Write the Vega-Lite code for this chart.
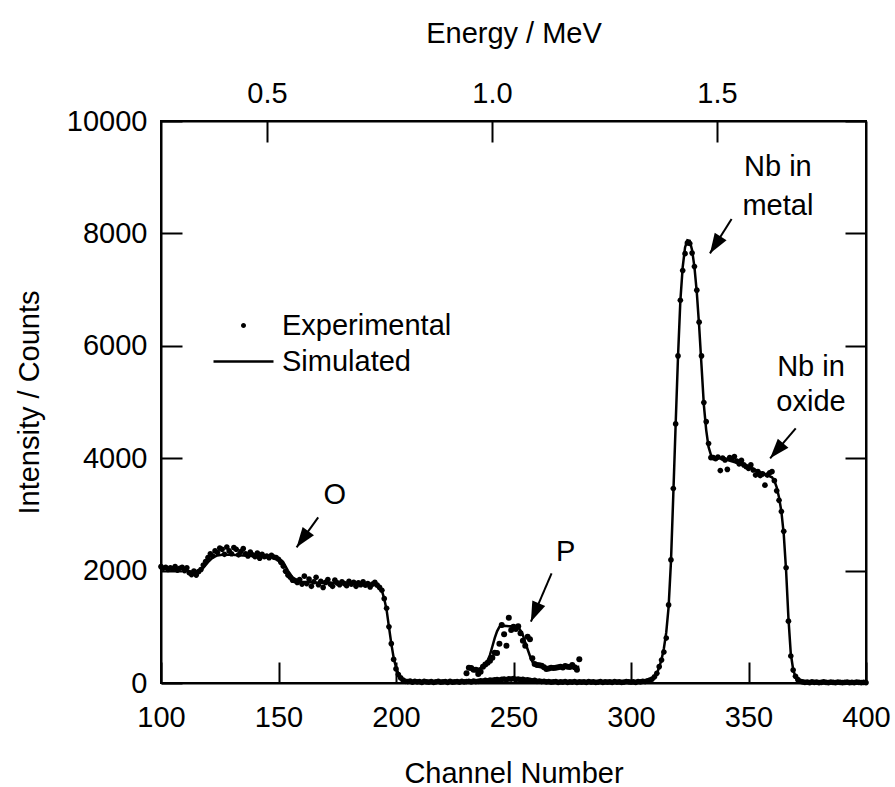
{
  "$schema": "https://vega.github.io/schema/vega-lite/v6.json",
  "width": 705,
  "height": 562,
  "autosize": {"type": "none"},
  "padding": {"left": 161, "top": 121, "right": 29, "bottom": 104},
  "config": {
    "font": "Liberation Sans",
    "view": {"stroke": "black", "strokeWidth": 2},
    "axis": {
      "domainColor": "black", "domainWidth": 2,
      "tickColor": "black", "tickWidth": 2, "tickSize": -21,
      "labelFontSize": 29, "labelColor": "black", "labelFont": "Liberation Sans",
      "titleFontSize": 29, "titleFontWeight": "normal", "titleColor": "black", "titleFont": "Liberation Sans",
      "grid": false, "labelFlush": false, "labelOverlap": false
    },
    "legend": {
      "labelFontSize": 29, "labelColor": "black", "labelFont": "Liberation Sans", "labelLimit": 400,
      "symbolFillColor": "black", "symbolSize": 100, "padding": 0
    }
  },
  "datasets": {
    "exp": [
      {"ch":100,"counts":2070},{"ch":101,"counts":2040},{"ch":102,"counts":2060},{"ch":103,"counts":2020},{"ch":104,"counts":2050},{"ch":105,"counts":2030},{"ch":106,"counts":2070},{"ch":107,"counts":2010},{"ch":108,"counts":2040},{"ch":109,"counts":2060},{"ch":110,"counts":2000},{"ch":111,"counts":2050},
      {"ch":112,"counts":1960},{"ch":113,"counts":1930},{"ch":114,"counts":1990},{"ch":115,"counts":1920},{"ch":116,"counts":1980},
      {"ch":117,"counts":2020},{"ch":118,"counts":2100},{"ch":119,"counts":2160},{"ch":120,"counts":2230},{"ch":121,"counts":2300},{"ch":122,"counts":2260},{"ch":123,"counts":2350},{"ch":124,"counts":2320},
      {"ch":125,"counts":2400},{"ch":126,"counts":2380},{"ch":127,"counts":2290},{"ch":128,"counts":2420},{"ch":129,"counts":2350},{"ch":130,"counts":2300},{"ch":131,"counts":2410},{"ch":132,"counts":2380},{"ch":133,"counts":2280},{"ch":134,"counts":2340},{"ch":135,"counts":2390},
      {"ch":136,"counts":2300},{"ch":137,"counts":2260},{"ch":138,"counts":2330},{"ch":139,"counts":2280},{"ch":140,"counts":2250},{"ch":141,"counts":2310},{"ch":142,"counts":2220},{"ch":143,"counts":2290},{"ch":144,"counts":2250},{"ch":145,"counts":2260},{"ch":146,"counts":2230},{"ch":147,"counts":2270},{"ch":148,"counts":2240},{"ch":149,"counts":2230},{"ch":150,"counts":2200},
      {"ch":151,"counts":2150},{"ch":152,"counts":2080},{"ch":153,"counts":1990},{"ch":154,"counts":1920},{"ch":155,"counts":1880},{"ch":156,"counts":1830},{"ch":157,"counts":1820},{"ch":158,"counts":1790},{"ch":159,"counts":1840},
      {"ch":160,"counts":1760},{"ch":161,"counts":1900},{"ch":162,"counts":1770},{"ch":163,"counts":1850},{"ch":164,"counts":1720},{"ch":165,"counts":1800},{"ch":166,"counts":1880},{"ch":167,"counts":1750},{"ch":168,"counts":1810},{"ch":169,"counts":1700},{"ch":170,"counts":1790},{"ch":171,"counts":1840},{"ch":172,"counts":1760},{"ch":173,"counts":1720},{"ch":174,"counts":1830},{"ch":175,"counts":1780},{"ch":176,"counts":1750},{"ch":177,"counts":1800},{"ch":178,"counts":1770},{"ch":179,"counts":1730},{"ch":180,"counts":1810},{"ch":181,"counts":1760},{"ch":182,"counts":1790},{"ch":183,"counts":1720},{"ch":184,"counts":1780},{"ch":185,"counts":1750},{"ch":186,"counts":1800},{"ch":187,"counts":1740},{"ch":188,"counts":1770},{"ch":189,"counts":1710},{"ch":190,"counts":1760},{"ch":191,"counts":1790},{"ch":192,"counts":1740},{"ch":193,"counts":1700},
      {"ch":194,"counts":1650},{"ch":195,"counts":1500},{"ch":196,"counts":1330},{"ch":197,"counts":1000},{"ch":198,"counts":700},{"ch":199,"counts":420},{"ch":200,"counts":250},{"ch":201,"counts":150},{"ch":202,"counts":90},{"ch":203,"counts":50},{"ch":204,"counts":30},
      {"ch":205,"counts":25},{"ch":206,"counts":35},{"ch":207,"counts":15},{"ch":208,"counts":30},{"ch":209,"counts":20},{"ch":210,"counts":25},{"ch":211,"counts":10},{"ch":212,"counts":30},{"ch":213,"counts":20},{"ch":214,"counts":15},{"ch":215,"counts":25},{"ch":216,"counts":10},{"ch":217,"counts":20},{"ch":218,"counts":30},{"ch":219,"counts":15},{"ch":220,"counts":20},{"ch":221,"counts":25},{"ch":222,"counts":10},{"ch":223,"counts":30},{"ch":224,"counts":15},{"ch":225,"counts":20},{"ch":226,"counts":25},{"ch":227,"counts":15},{"ch":228,"counts":30},{"ch":229,"counts":20},{"ch":230,"counts":25},{"ch":231,"counts":30},{"ch":232,"counts":20},{"ch":233,"counts":35},{"ch":234,"counts":25},{"ch":235,"counts":30},{"ch":236,"counts":40},{"ch":237,"counts":35},{"ch":238,"counts":45},{"ch":239,"counts":40},{"ch":240,"counts":50},{"ch":241,"counts":45},{"ch":242,"counts":55},{"ch":243,"counts":60},{"ch":244,"counts":50},{"ch":245,"counts":65},{"ch":246,"counts":70},{"ch":247,"counts":60},{"ch":248,"counts":75},{"ch":249,"counts":70},{"ch":250,"counts":80},{"ch":251,"counts":65},{"ch":252,"counts":70},{"ch":253,"counts":60},{"ch":254,"counts":65},{"ch":255,"counts":50},{"ch":256,"counts":55},{"ch":257,"counts":45},{"ch":258,"counts":40},{"ch":259,"counts":45},{"ch":260,"counts":30},{"ch":261,"counts":35},{"ch":262,"counts":25},{"ch":263,"counts":30},{"ch":264,"counts":20},{"ch":265,"counts":25},{"ch":266,"counts":15},{"ch":267,"counts":20},{"ch":268,"counts":25},{"ch":269,"counts":10},{"ch":270,"counts":20},{"ch":271,"counts":15},{"ch":272,"counts":25},{"ch":273,"counts":10},{"ch":274,"counts":20},{"ch":275,"counts":15},{"ch":276,"counts":25},{"ch":277,"counts":10},{"ch":278,"counts":20},{"ch":279,"counts":15},{"ch":280,"counts":20},{"ch":281,"counts":10},{"ch":282,"counts":25},{"ch":283,"counts":15},{"ch":284,"counts":20},{"ch":285,"counts":10},{"ch":286,"counts":15},{"ch":287,"counts":25},{"ch":288,"counts":10},{"ch":289,"counts":20},{"ch":290,"counts":15},{"ch":291,"counts":20},{"ch":292,"counts":10},{"ch":293,"counts":25},{"ch":294,"counts":15},{"ch":295,"counts":20},{"ch":296,"counts":10},{"ch":297,"counts":15},{"ch":298,"counts":25},{"ch":299,"counts":20},{"ch":300,"counts":15},{"ch":301,"counts":20},{"ch":302,"counts":10},{"ch":303,"counts":25},{"ch":304,"counts":20},{"ch":305,"counts":30},{"ch":306,"counts":25},{"ch":307,"counts":40},{"ch":308,"counts":50},{"ch":309,"counts":70},{"ch":310,"counts":110},
      {"ch":311,"counts":172},{"ch":312,"counts":290},{"ch":313,"counts":409},{"ch":314,"counts":550},{"ch":315,"counts":800},{"ch":316,"counts":1390},{"ch":317,"counts":2190},{"ch":318,"counts":3460},{"ch":319,"counts":4610},{"ch":320,"counts":5820},{"ch":321,"counts":6810},{"ch":322,"counts":7340},{"ch":323,"counts":7640},{"ch":324,"counts":7830},{"ch":325,"counts":7820},{"ch":326,"counts":7650},{"ch":327,"counts":7410},{"ch":328,"counts":6990},{"ch":329,"counts":6420},{"ch":330,"counts":5820},{"ch":331,"counts":4990},{"ch":332,"counts":4650},{"ch":333,"counts":4260},{"ch":334,"counts":4010},
      {"ch":335,"counts":4010},{"ch":336,"counts":3990},{"ch":337,"counts":4020},{"ch":338,"counts":3780},{"ch":339,"counts":4000},{"ch":340,"counts":3970},{"ch":341,"counts":3800},{"ch":342,"counts":4010},{"ch":343,"counts":3990},{"ch":344,"counts":4030},{"ch":345,"counts":3950},{"ch":346,"counts":3900},{"ch":347,"counts":3960},{"ch":348,"counts":3880},{"ch":349,"counts":3850},{"ch":350,"counts":3820},{"ch":351,"counts":3880},{"ch":352,"counts":3790},{"ch":353,"counts":3700},{"ch":354,"counts":3760},{"ch":355,"counts":3690},{"ch":356,"counts":3720},{"ch":357,"counts":3520},{"ch":358,"counts":3700},{"ch":359,"counts":3740},{"ch":360,"counts":3760},
      {"ch":361,"counts":3600},{"ch":362,"counts":3420},{"ch":363,"counts":3250},{"ch":364,"counts":3050},{"ch":365,"counts":2700},{"ch":366,"counts":2050},{"ch":367,"counts":1100},{"ch":368,"counts":480},{"ch":369,"counts":230},{"ch":370,"counts":120},{"ch":371,"counts":60},{"ch":372,"counts":30},
      {"ch":373,"counts":20},{"ch":374,"counts":10},{"ch":375,"counts":15},{"ch":376,"counts":5},{"ch":377,"counts":20},{"ch":378,"counts":10},{"ch":379,"counts":15},{"ch":380,"counts":5},{"ch":381,"counts":10},{"ch":382,"counts":20},{"ch":383,"counts":10},{"ch":384,"counts":5},{"ch":385,"counts":15},{"ch":386,"counts":10},{"ch":387,"counts":5},{"ch":388,"counts":15},{"ch":389,"counts":10},{"ch":390,"counts":5},{"ch":391,"counts":10},{"ch":392,"counts":15},{"ch":393,"counts":5},{"ch":394,"counts":10},{"ch":395,"counts":5},{"ch":396,"counts":15},{"ch":397,"counts":10},{"ch":398,"counts":5},{"ch":399,"counts":10},{"ch":400,"counts":5}
    ],
    "expP": [
      {"ch":230,"counts":172},{"ch":231,"counts":273},{"ch":232,"counts":266},{"ch":233,"counts":237},{"ch":234,"counts":237},{"ch":235,"counts":160},{"ch":236,"counts":202},{"ch":237,"counts":290},{"ch":238,"counts":330},{"ch":239,"counts":361},{"ch":240,"counts":397},{"ch":241,"counts":450},{"ch":242,"counts":540},{"ch":243,"counts":534},{"ch":244,"counts":700},{"ch":245,"counts":1032},{"ch":246,"counts":866},{"ch":247,"counts":664},{"ch":248,"counts":1162},{"ch":249,"counts":943},{"ch":250,"counts":1002},{"ch":251,"counts":960},{"ch":252,"counts":1008},{"ch":253,"counts":884},{"ch":254,"counts":750},{"ch":255,"counts":664},{"ch":256,"counts":824},{"ch":257,"counts":777},{"ch":258,"counts":439},{"ch":259,"counts":338},{"ch":260,"counts":320},{"ch":261,"counts":315},{"ch":262,"counts":308},{"ch":263,"counts":280},{"ch":264,"counts":249},{"ch":265,"counts":260},{"ch":266,"counts":273},{"ch":267,"counts":265},{"ch":268,"counts":273},{"ch":269,"counts":280},{"ch":270,"counts":290},{"ch":271,"counts":275},{"ch":272,"counts":302},{"ch":273,"counts":290},{"ch":274,"counts":285},{"ch":275,"counts":320},{"ch":276,"counts":280},{"ch":277,"counts":237},{"ch":278,"counts":421}
    ],
    "sim": [
      {"ch":100,"counts":2050},{"ch":105,"counts":2050},{"ch":110,"counts":2030},{"ch":112,"counts":1990},{"ch":114,"counts":1970},{"ch":116,"counts":1990},{"ch":118,"counts":2050},{"ch":120,"counts":2150},{"ch":122,"counts":2230},{"ch":124,"counts":2270},{"ch":126,"counts":2280},{"ch":130,"counts":2280},{"ch":135,"counts":2270},{"ch":140,"counts":2260},{"ch":145,"counts":2250},{"ch":150,"counts":2220},{"ch":152,"counts":2150},{"ch":154,"counts":2000},{"ch":156,"counts":1880},{"ch":158,"counts":1820},{"ch":160,"counts":1800},{"ch":165,"counts":1790},{"ch":170,"counts":1780},{"ch":175,"counts":1780},{"ch":180,"counts":1770},{"ch":185,"counts":1760},{"ch":190,"counts":1750},{"ch":192,"counts":1740},{"ch":193,"counts":1710},{"ch":194,"counts":1640},{"ch":195,"counts":1500},{"ch":196,"counts":1300},{"ch":197,"counts":1000},{"ch":198,"counts":700},{"ch":199,"counts":450},{"ch":200,"counts":280},{"ch":201,"counts":170},{"ch":202,"counts":100},{"ch":203,"counts":60},{"ch":204,"counts":40},{"ch":206,"counts":25},{"ch":210,"counts":20},{"ch":220,"counts":15},{"ch":230,"counts":20},{"ch":240,"counts":40},{"ch":245,"counts":60},{"ch":250,"counts":70},{"ch":255,"counts":60},{"ch":260,"counts":35},{"ch":270,"counts":20},{"ch":280,"counts":15},{"ch":290,"counts":15},{"ch":300,"counts":15},{"ch":305,"counts":20},{"ch":308,"counts":40},{"ch":310,"counts":100},{"ch":311,"counts":170},{"ch":312,"counts":280},{"ch":313,"counts":420},{"ch":314,"counts":620},{"ch":315,"counts":900},{"ch":316,"counts":1350},{"ch":317,"counts":2150},{"ch":318,"counts":3350},{"ch":319,"counts":4600},{"ch":320,"counts":5800},{"ch":321,"counts":6800},{"ch":322,"counts":7400},{"ch":323,"counts":7750},{"ch":324,"counts":7880},{"ch":325,"counts":7870},{"ch":326,"counts":7700},{"ch":327,"counts":7400},{"ch":328,"counts":6950},{"ch":329,"counts":6350},{"ch":330,"counts":5650},{"ch":331,"counts":4950},{"ch":332,"counts":4500},{"ch":333,"counts":4200},{"ch":334,"counts":4060},{"ch":335,"counts":4020},{"ch":340,"counts":3980},{"ch":345,"counts":3920},{"ch":350,"counts":3850},{"ch":355,"counts":3750},{"ch":358,"counts":3700},{"ch":360,"counts":3660},{"ch":361,"counts":3600},{"ch":362,"counts":3480},{"ch":363,"counts":3300},{"ch":364,"counts":3050},{"ch":365,"counts":2650},{"ch":366,"counts":2000},{"ch":367,"counts":1150},{"ch":368,"counts":520},{"ch":369,"counts":240},{"ch":370,"counts":110},{"ch":371,"counts":50},{"ch":372,"counts":25},{"ch":375,"counts":10},{"ch":400,"counts":5}
    ],
    "simP": [
      {"ch":230,"counts":270},{"ch":232,"counts":260},{"ch":235,"counts":250},{"ch":237,"counts":280},{"ch":238,"counts":320},{"ch":239,"counts":400},{"ch":240,"counts":500},{"ch":241,"counts":650},{"ch":242,"counts":800},{"ch":243,"counts":920},{"ch":244,"counts":1000},{"ch":246,"counts":1020},{"ch":248,"counts":1010},{"ch":250,"counts":1010},{"ch":252,"counts":1000},{"ch":253,"counts":930},{"ch":254,"counts":850},{"ch":255,"counts":720},{"ch":256,"counts":600},{"ch":257,"counts":480},{"ch":258,"counts":380},{"ch":259,"counts":320},{"ch":260,"counts":300},{"ch":265,"counts":270},{"ch":270,"counts":270},{"ch":275,"counts":280},{"ch":278,"counts":290}
    ],
    "labels": [
      {"ch":174.0,"counts":3339,"text":"O"},
      {"ch":272.2,"counts":2336,"text":"P"},
      {"ch":362.5,"counts":9180,"text":"Nb in"},
      {"ch":362.5,"counts":8486,"text":"metal"},
      {"ch":376.6,"counts":5622,"text":"Nb in"},
      {"ch":376.6,"counts":4999,"text":"oxide"}
    ],
    "arrows": [
      {"name":"O","ch0":166.9,"c0":2948,"ch":157.7,"counts":2414},
      {"name":"P","ch0":266.2,"c0":1951,"ch":257.4,"counts":1091},
      {"name":"metal","ch0":342.8,"c0":8255,"ch":333.6,"counts":7644},
      {"name":"oxide","ch0":370.1,"c0":4531,"ch":359.2,"counts":3997}
    ]
  },
  "layer": [
    {
      "encoding": {
        "x": {"field": "ch", "type": "quantitative",
              "scale": {"domain": [100, 400], "nice": false, "zero": false},
              "axis": {"orient": "bottom", "values": [100,150,200,250,300,350,400], "title": "Channel Number", "labelPadding": 41, "titlePadding": 27}},
        "y": {"field": "counts", "type": "quantitative",
              "scale": {"domain": [0, 10000], "nice": false},
              "axis": {"orient": "left", "values": [0,2000,4000,6000,8000,10000], "format": "d", "title": "Intensity / Counts", "labelPadding": 35, "titlePadding": 22}}
      },
      "layer": [
        {"data": {"name": "sim"}, "mark": {"type": "line", "color": "black", "strokeWidth": 2.5}},
        {"data": {"name": "simP"}, "mark": {"type": "line", "color": "black", "strokeWidth": 2.5}},
        {"data": {"name": "exp"},
         "transform": [{"calculate": "'Experimental'", "as": "series"}],
         "mark": {"type": "point", "filled": true, "color": "black", "opacity": 1, "size": 130},
         "encoding": {"shape": {"field": "series", "type": "nominal",
            "scale": {"domain": ["Experimental", "Simulated"], "range": ["M0,-0.5A0.5,0.5,0,1,1,0,0.5A0.5,0.5,0,1,1,0,-0.5Z", "M-6,-0.25H6V0.25H-6Z"]},
            "legend": {"title": null, "orient": "none", "legendX": 68, "legendY": 190, "labelOffset": 24, "rowPadding": 6,
              "symbolFillColor": "black", "symbolOpacity": 1}}}},
        {"data": {"name": "expP"}, "mark": {"type": "point", "filled": true, "color": "black", "opacity": 1, "size": 36, "shape": "circle"}},
        {"data": {"name": "labels"}, "mark": {"type": "text", "fontSize": 29, "color": "black", "align": "center", "baseline": "middle", "font": "Liberation Sans"}, "encoding": {"text": {"field": "text"}}},
        {"data": {"name": "arrows"}, "mark": {"type": "rule", "color": "black", "strokeWidth": 2}, "encoding": {"x2": {"field": "ch0"}, "y2": {"field": "c0"}}},
        {"data": {"name": "arrows"}, "transform": [{"filter": "datum.name == 'O'"}], "mark": {"type": "point", "filled": true, "color": "black", "opacity": 1, "size": 1600, "shape": "M0,0L-0.35,-1L0.35,-1Z", "angle": 35.8}},
        {"data": {"name": "arrows"}, "transform": [{"filter": "datum.name == 'P'"}], "mark": {"type": "point", "filled": true, "color": "black", "opacity": 1, "size": 1600, "shape": "M0,0L-0.35,-1L0.35,-1Z", "angle": 23.2}},
        {"data": {"name": "arrows"}, "transform": [{"filter": "datum.name == 'metal'"}], "mark": {"type": "point", "filled": true, "color": "black", "opacity": 1, "size": 1600, "shape": "M0,0L-0.35,-1L0.35,-1Z", "angle": 32.3}},
        {"data": {"name": "arrows"}, "transform": [{"filter": "datum.name == 'oxide'"}], "mark": {"type": "point", "filled": true, "color": "black", "opacity": 1, "size": 1600, "shape": "M0,0L-0.35,-1L0.35,-1Z", "angle": 40.6}}
      ]
    },
    {
      "data": {"values": [{"energy": 0.2644, "counts": 0}, {"energy": 1.8311, "counts": 10000}]},
      "mark": {"type": "point", "opacity": 0},
      "encoding": {
        "x": {"field": "energy", "type": "quantitative",
              "scale": {"domain": [0.2644, 1.8311], "nice": false, "zero": false},
              "axis": {"orient": "top", "values": [0.5, 1.0, 1.5], "format": ".1f", "title": "Energy / MeV", "labelPadding": 34, "titlePadding": 31}},
        "y": {"field": "counts", "type": "quantitative",
              "scale": {"domain": [0, 10000], "nice": false},
              "axis": {"orient": "right", "values": [0,2000,4000,6000,8000,10000], "labels": false, "title": null}}
      }
    }
  ],
  "resolve": {"scale": {"x": "independent", "y": "independent"}}
}
